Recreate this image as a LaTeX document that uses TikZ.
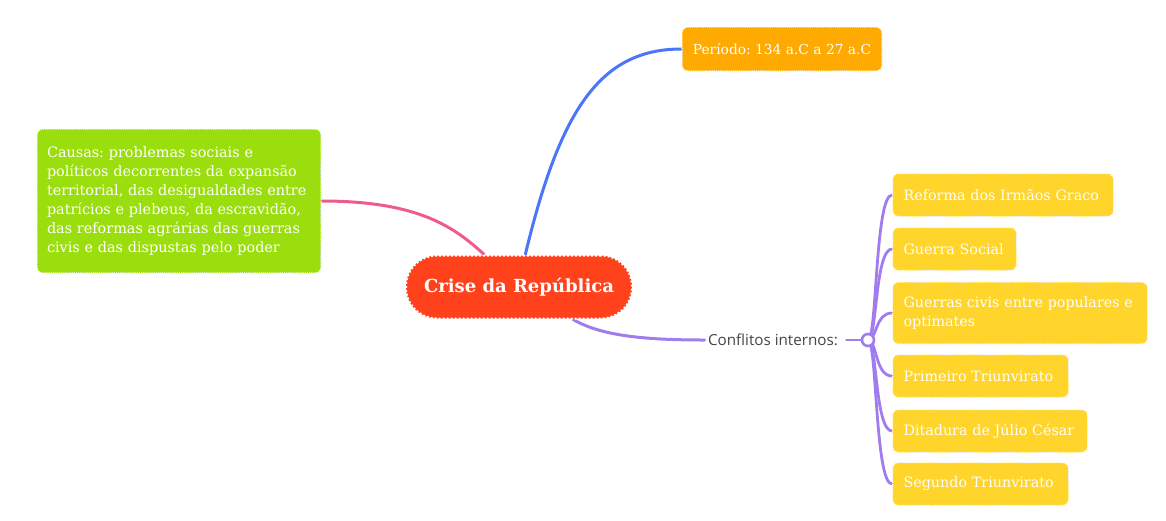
\documentclass[tikz,border=0pt]{standalone}
\usepackage{fontspec}
\setmainfont{DejaVu Serif}
\newfontfamily\labelsans{Open Sans}
\usetikzlibrary{backgrounds}
\frenchspacing
\definecolor{crisered}{HTML}{FF421B}
\definecolor{causgreen}{HTML}{9ADE0E}
\definecolor{perorange}{HTML}{FFAA00}
\definecolor{childyellow}{HTML}{FFD42B}
\definecolor{bluel}{HTML}{4A76F7}
\definecolor{pinkl}{HTML}{EF5B8E}
\definecolor{purplel}{HTML}{A07CEE}
\definecolor{confgray}{HTML}{444444}
\tikzset{
  topicbox/.style={draw=white, densely dotted, line width=1.1pt, rounded corners=6pt, text=white, inner ysep=4pt},
  childbox/.style={topicbox, fill=childyellow, anchor=west, inner xsep=11pt, align=left, minimum height=43pt, font=\fontsize{14.3}{19}\selectfont\frenchspacing},
  conn/.style={line width=3pt, line cap=round},
  subconn/.style={line width=2.8pt, purplel, line cap=round},
}
\begin{document}
\begin{tikzpicture}[x=1pt,y=-1pt]
\useasboundingbox (0,0) rectangle (1166,520);
\node[topicbox, fill=crisered, rounded corners=31pt, line width=2pt, dotted, minimum width=226pt, minimum height=63pt, font=\fontsize{18}{22}\selectfont\bfseries] (crise) at (519,287) {Crise da República};
\node[topicbox, fill=perorange, minimum width=200pt, minimum height=44pt, font=\fontsize{13.8}{18}\selectfont] (periodo) at (782,49) {Período: 134 a.C a 27 a.C};
\node[topicbox, fill=causgreen, text width=264pt, inner xsep=10pt, align=left, minimum height=144pt, font=\fontsize{14.4}{19}\selectfont\frenchspacing] (causas) at (179,201) {Causas: problemas sociais e\\políticos decorrentes da expansão\\territorial, das desigualdades entre\\patrícios e plebeus, da escravidão,\\das reformas agrárias das guerras\\civis e das dispustas pelo poder};
\node[text=confgray, font=\labelsans\fontsize{15.2}{17}\selectfont] (conf) at (773,340) {Conflitos internos:};
\node[circle, draw=purplel, fill=white, line width=2.6pt, minimum size=12pt, inner sep=0pt] (hub) at (868,340) {};
\node[childbox, text width=199pt] (c1) at (892,195) {Reforma dos Irmãos Graco};
\node[childbox, text width=102pt] (c2) at (892,249) {Guerra Social};
\node[childbox, text width=233pt, minimum height=62pt] (c3) at (892,313) {Guerras civis entre populares e\\optimates};
\node[childbox, text width=154pt] (c4) at (892,376) {Primeiro Triunvirato};
\node[childbox, text width=173pt] (c5) at (892,431) {Ditadura de Júlio César};
\node[childbox, text width=154pt] (c6) at (892,484) {Segundo Triunvirato};
\begin{scope}[on background layer]
\draw[conn, bluel] (crise.79) .. controls (560,110) and (600,49) .. (periodo.west);
\draw[conn, pinkl] (crise.137) .. controls (455,228) and (420,201) .. (causas.east);
\draw[conn, purplel] (crise.-31) .. controls (600,335) and (640,340) .. (conf.west);
\draw[subconn, shorten <=5pt] (conf.east) -- (hub.center);
\foreach \c in {c1,c2,c3,c4,c5,c6}{
  \draw[subconn] (hub.center) .. controls +(9,0) and +(-17,0) .. (\c.west);
}
\end{scope}
\end{tikzpicture}
\end{document}
